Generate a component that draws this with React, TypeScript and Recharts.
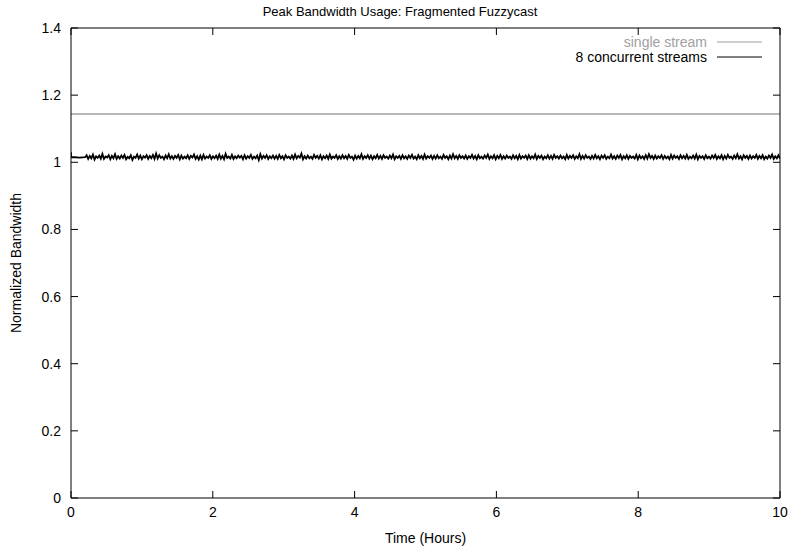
import React from 'react';
import { LineChart, Line, XAxis, YAxis } from 'recharts';

// Peak bandwidth usage over a 10 hour run, normalized to the average stream rate.
const TITLE = 'Peak Bandwidth Usage: Fragmented Fuzzycast';
const X_TICKS = [0, 2, 4, 6, 8, 10];
const Y_TICKS = [0, 0.2, 0.4, 0.6, 0.8, 1, 1.2, 1.4];
const LEGEND_LABELS = ['single stream', '8 concurrent streams'];

// Single stream: constant peak bandwidth.
const singleTimes = [0, 10];
const singleValues = [1.144, 1.144];

// 8 concurrent streams: start-up segment followed by sampled peaks.
const startTimes = [0, 0, 0.05, 0.12, 0.2];
const startValues = [1.03, 1.015, 1.015, 1.014, 1.015];

const SAMPLE_START = 0.22;
const SAMPLE_END = 10;
const concurrentValues = [
  1.021, 1.010, 1.019, 1.012, 1.023, 1.008, 1.018, 1.013, 1.020, 1.011, 1.025, 1.010, 1.017, 1.014, 1.021, 1.009, 1.019, 1.012, 1.024, 1.010,
  1.018, 1.011, 1.020, 1.013, 1.022, 1.009, 1.016, 1.012, 1.021, 1.007, 1.017, 1.013, 1.023, 1.011, 1.020, 1.009, 1.018, 1.014, 1.021, 1.010,
  1.019, 1.012, 1.022, 1.010, 1.026, 1.011, 1.021, 1.013, 1.017, 1.009, 1.020, 1.012, 1.024, 1.011, 1.018, 1.010, 1.019, 1.013, 1.022, 1.009,
  1.020, 1.011, 1.017, 1.012, 1.021, 1.010, 1.019, 1.014, 1.023, 1.010, 1.018, 1.008, 1.020, 1.009, 1.022, 1.011, 1.017, 1.013, 1.021, 1.010,
  1.018, 1.012, 1.020, 1.010, 1.023, 1.011, 1.019, 1.009, 1.025, 1.013, 1.017, 1.011, 1.022, 1.010, 1.018, 1.012, 1.020, 1.014, 1.019, 1.009,
  1.021, 1.011, 1.018, 1.013, 1.022, 1.010, 1.017, 1.012, 1.020, 1.007, 1.024, 1.011, 1.019, 1.013, 1.021, 1.010, 1.018, 1.012, 1.020, 1.011,
  1.019, 1.010, 1.022, 1.012, 1.018, 1.009, 1.021, 1.013, 1.017, 1.011, 1.020, 1.010, 1.023, 1.012, 1.019, 1.014, 1.026, 1.009, 1.018, 1.011,
  1.020, 1.012, 1.017, 1.010, 1.022, 1.013, 1.019, 1.011, 1.021, 1.009, 1.018, 1.012, 1.020, 1.010, 1.023, 1.011, 1.017, 1.013, 1.021, 1.010,
  1.018, 1.011, 1.021, 1.012, 1.019, 1.010, 1.022, 1.013, 1.017, 1.008, 1.020, 1.011, 1.019, 1.012, 1.024, 1.010, 1.018, 1.013, 1.021, 1.011,
  1.020, 1.009, 1.018, 1.012, 1.022, 1.011, 1.019, 1.010, 1.021, 1.013, 1.017, 1.011, 1.020, 1.012, 1.023, 1.009, 1.018, 1.013, 1.019, 1.010,
  1.021, 1.012, 1.018, 1.010, 1.020, 1.013, 1.022, 1.011, 1.017, 1.009, 1.021, 1.012, 1.019, 1.010, 1.023, 1.011, 1.018, 1.013, 1.020, 1.010,
  1.019, 1.011, 1.021, 1.012, 1.017, 1.010, 1.022, 1.013, 1.018, 1.009, 1.020, 1.011, 1.024, 1.012, 1.019, 1.010, 1.021, 1.013, 1.018, 1.011,
  1.020, 1.010, 1.018, 1.013, 1.022, 1.011, 1.019, 1.009, 1.021, 1.012, 1.017, 1.011, 1.020, 1.013, 1.023, 1.010, 1.018, 1.012, 1.021, 1.009,
  1.019, 1.012, 1.022, 1.010, 1.018, 1.011, 1.020, 1.013, 1.017, 1.010, 1.021, 1.012, 1.019, 1.009, 1.022, 1.011, 1.018, 1.013, 1.020, 1.010,
  1.021, 1.011, 1.018, 1.012, 1.023, 1.010, 1.019, 1.013, 1.020, 1.009, 1.017, 1.012, 1.021, 1.011, 1.019, 1.010, 1.022, 1.013, 1.018, 1.011,
  1.020, 1.012, 1.017, 1.009, 1.022, 1.011, 1.019, 1.013, 1.021, 1.010, 1.018, 1.012, 1.024, 1.010, 1.019, 1.011, 1.021, 1.013, 1.017, 1.010,
  1.019, 1.011, 1.022, 1.012, 1.018, 1.009, 1.020, 1.013, 1.021, 1.010, 1.017, 1.012, 1.023, 1.011, 1.018, 1.010, 1.020, 1.013, 1.022, 1.009,
  1.018, 1.012, 1.021, 1.010, 1.019, 1.013, 1.017, 1.011, 1.022, 1.009, 1.020, 1.012, 1.018, 1.010, 1.021, 1.011, 1.024, 1.013, 1.019, 1.010,
  1.020, 1.011, 1.018, 1.013, 1.021, 1.010, 1.019, 1.012, 1.017, 1.009, 1.022, 1.011, 1.020, 1.013, 1.018, 1.010, 1.021, 1.012, 1.019, 1.011,
  1.022, 1.010, 1.017, 1.012, 1.020, 1.011, 1.023, 1.009, 1.019, 1.013, 1.018, 1.010, 1.021, 1.012, 1.017, 1.011, 1.020, 1.013, 1.022, 1.010,
  1.018, 1.012, 1.021, 1.009, 1.019, 1.011, 1.022, 1.013, 1.017, 1.010, 1.020, 1.012, 1.024, 1.011, 1.018, 1.009, 1.021, 1.013, 1.019, 1.010,
  1.020, 1.011, 1.018, 1.013, 1.022, 1.010, 1.019, 1.012, 1.021, 1.009, 1.017, 1.011, 1.020, 1.013, 1.023, 1.010, 1.018, 1.012, 1.021, 1.011,
];

const GRAY = '#a0a0a0';
const FONT = '"Liberation Sans", Arial, Helvetica, sans-serif';
const TICK_FONT_SIZE = 14;
const TICK_LEN = 7;

const CHART_W = 789;
const CHART_H = 552;
const PLOT_LEFT = 71;
const PLOT_RIGHT = 780;
const PLOT_TOP = 28;
const X_AXIS_H = 54;
const PLOT_BOTTOM = CHART_H - X_AXIS_H;

const sampleStep = (SAMPLE_END - SAMPLE_START) / (concurrentValues.length - 1);
const singleData = singleTimes.map((t, i) => ({ t, v: singleValues[i] }));
const concurrentData = [
  ...startTimes.map((t, i) => ({ t, v: startValues[i] })),
  ...concurrentValues.map((v, i) => ({ t: SAMPLE_START + i * sampleStep, v })),
];

const fmtY = (v: number) => (Math.round(v * 10) / 10).toString();

// gnuplot-style ticks: drawn inward from the border on all four sides.
const BottomTick = (props: any) => {
  const { x, payload } = props;
  return (
    <g>
      <line x1={x} x2={x} y1={PLOT_BOTTOM} y2={PLOT_BOTTOM - TICK_LEN} stroke="#000" strokeWidth={1} />
      <text x={x} y={PLOT_BOTTOM + 19} textAnchor="middle" fontSize={TICK_FONT_SIZE} fontFamily={FONT} fill="#000">
        {payload.value}
      </text>
    </g>
  );
};

const TopTick = (props: any) => {
  const { x } = props;
  return <line x1={x} x2={x} y1={PLOT_TOP} y2={PLOT_TOP + TICK_LEN} stroke="#000" strokeWidth={1} />;
};

const LeftTick = (props: any) => {
  const { y, payload } = props;
  return (
    <g>
      <line x1={PLOT_LEFT} x2={PLOT_LEFT + TICK_LEN} y1={y} y2={y} stroke="#000" strokeWidth={1} />
      <text x={PLOT_LEFT - 10} y={y + 5} textAnchor="end" fontSize={TICK_FONT_SIZE} fontFamily={FONT} fill="#000">
        {fmtY(payload.value)}
      </text>
    </g>
  );
};

const RightTick = (props: any) => {
  const { y } = props;
  return <line x1={PLOT_RIGHT} x2={PLOT_RIGHT - TICK_LEN} y1={y} y2={y} stroke="#000" strokeWidth={1} />;
};

export default function App() {
  const legendColors = [GRAY, '#000'];
  return (
    <div style={{ position: 'absolute', left: 0, top: 0, width: CHART_W, height: CHART_H, background: '#fff' }}>
      <LineChart
        width={CHART_W}
        height={CHART_H}
        margin={{ top: PLOT_TOP - 1, right: CHART_W - PLOT_RIGHT - 1, bottom: 0, left: 0 }}
      >
        <text x={400} y={16} textAnchor="middle" fontSize={13} fontFamily={FONT} fill="#000">
          {TITLE}
        </text>
        {LEGEND_LABELS.map((label, i) => (
          <g key={label}>
            <text x={707} y={47 + i * 15} textAnchor="end" fontSize={TICK_FONT_SIZE} fontFamily={FONT} fill={legendColors[i]}>
              {label}
            </text>
            <line x1={717} x2={762} y1={42 + i * 15} y2={42 + i * 15} stroke={legendColors[i]} strokeWidth={1} />
          </g>
        ))}
        <XAxis
          xAxisId="b"
          type="number"
          dataKey="t"
          domain={[0, 10]}
          ticks={X_TICKS}
          orientation="bottom"
          height={X_AXIS_H}
          axisLine={{ stroke: '#000', strokeWidth: 1 }}
          tickLine={false}
          tickSize={0}
          tickMargin={0}
          tick={<BottomTick />}
          allowDataOverflow
          label={{ value: 'Time (Hours)', position: 'insideBottom', offset: 9, fontSize: TICK_FONT_SIZE, fontFamily: FONT, fill: '#000' }}
        />
        <XAxis
          xAxisId="t"
          type="number"
          dataKey="t"
          domain={[0, 10]}
          ticks={X_TICKS}
          orientation="top"
          height={1}
          axisLine={{ stroke: '#000', strokeWidth: 1 }}
          tickLine={false}
          tickSize={0}
          tickMargin={0}
          tick={<TopTick />}
          allowDataOverflow
        />
        <YAxis
          yAxisId="l"
          type="number"
          domain={[0, 1.4]}
          ticks={Y_TICKS}
          orientation="left"
          width={PLOT_LEFT}
          axisLine={{ stroke: '#000', strokeWidth: 1 }}
          tickLine={false}
          tickSize={0}
          tickMargin={0}
          tick={<LeftTick />}
          allowDataOverflow
          label={{ value: 'Normalized Bandwidth', angle: -90, position: 'insideLeft', offset: 16, style: { textAnchor: 'middle' }, fontSize: TICK_FONT_SIZE, fontFamily: FONT, fill: '#000' }}
        />
        <YAxis
          yAxisId="r"
          type="number"
          domain={[0, 1.4]}
          ticks={Y_TICKS}
          orientation="right"
          width={1}
          axisLine={{ stroke: '#000', strokeWidth: 1 }}
          tickLine={false}
          tickSize={0}
          tickMargin={0}
          tick={<RightTick />}
          allowDataOverflow
        />
        <Line
          xAxisId="b"
          yAxisId="l"
          data={singleData}
          dataKey="v"
          type="linear"
          stroke={GRAY}
          strokeWidth={1.5}
          dot={false}
          isAnimationActive={false}
        />
        <Line
          xAxisId="b"
          yAxisId="l"
          data={concurrentData}
          dataKey="v"
          type="linear"
          stroke="#000"
          strokeWidth={1.8}
          dot={false}
          isAnimationActive={false}
        />
      </LineChart>
    </div>
  );
}
